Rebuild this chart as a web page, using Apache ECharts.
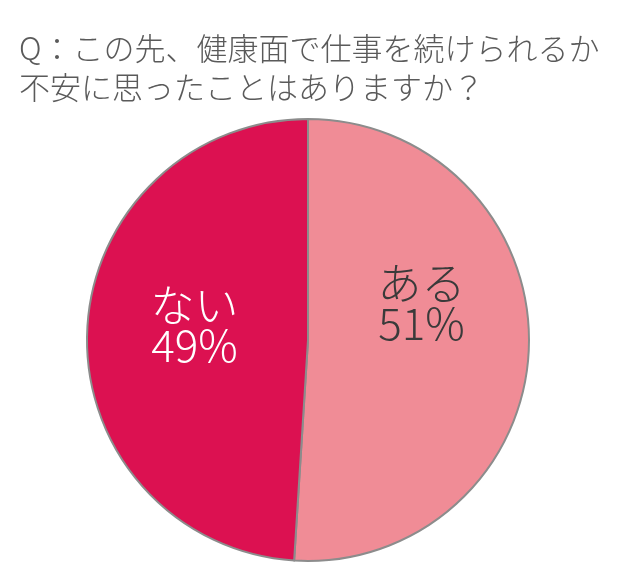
<!DOCTYPE html>
<html><head><meta charset="utf-8">
<script src="https://cdn.jsdelivr.net/npm/echarts@6/dist/echarts.min.js"></script>
<style>html,body{margin:0;padding:0;background:#fff}#c{width:640px;height:583px}</style>
</head><body><div id="c"></div>
<script>
const titleLines = ['Q：この先、健康面で仕事を続けられるか', '不安に思ったことはありますか？'];
const categories = ['ある', 'ない'];
const values = [51, 49];
const colors = ['#F08C96', '#DC1151'];
const labelColors = ['#3a3a3a', '#ffffff'];
const labelLift = [80, 22];

const chart = echarts.init(document.getElementById('c'), null, {renderer: 'canvas'});
chart.setOption({
  animation: false,
  title: {
    text: titleLines.join('\n'),
    left: 14, top: 24,
    textStyle: {fontFamily: 'Noto Sans CJK JP', fontSize: 31, fontWeight: 300, color: '#5a5a5a', lineHeight: 39}
  },
  series: [{
    type: 'pie',
    center: [308, 340],
    radius: [0, 221],
    startAngle: 90,
    clockwise: true,
    data: categories.map((c, i) => ({
      name: c, value: values[i],
      itemStyle: {color: colors[i]},
      label: {
        rich: {
          a: {color: labelColors[i], fontFamily: 'Noto Sans CJK JP', fontSize: 44, fontWeight: 300, lineHeight: 40},
          s: {fontSize: 1, lineHeight: labelLift[i]}
        }
      }
    })),
    itemStyle: {borderColor: '#8c8c8c', borderWidth: 2},
    label: {
      show: true, position: 'inside',
      formatter: p => '{a|' + p.name + '}\n{a|' + p.value + '%}\n{s| }'
    },
    labelLine: {show: false},
    emphasis: {disabled: true}
  }]
});
</script></body></html>
